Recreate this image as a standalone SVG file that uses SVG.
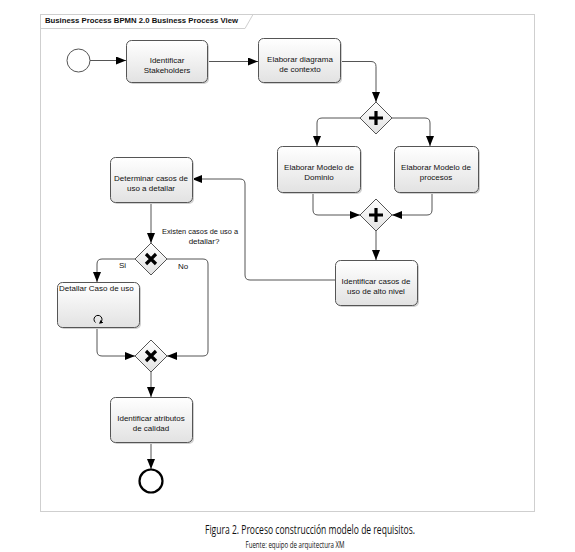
<svg xmlns="http://www.w3.org/2000/svg" width="575" height="552" viewBox="0 0 575 552">
<defs>
<linearGradient id="g" x1="0" y1="0" x2="0" y2="1">
<stop offset="0" stop-color="#ffffff"/>
<stop offset="1" stop-color="#e2e2e2"/>
</linearGradient>
<marker id="ah" markerUnits="userSpaceOnUse" markerWidth="11" markerHeight="9" refX="10" refY="4" orient="auto">
<path d="M0,0 L10,4 L0,8 z" fill="#000"/>
</marker>
<marker id="sh" markerUnits="userSpaceOnUse" markerWidth="5" markerHeight="5" refX="2" refY="2" orient="auto">
<path d="M0,0 L4,2 L0,4 z" fill="#000"/>
</marker>
</defs>
<style>
.frame{fill:#fff;stroke:#cfcfcf;stroke-width:1}
.task{fill:url(#g);stroke:#555;stroke-width:1}
.shadow{fill:#d0d0d0}
.gw{fill:url(#g);stroke:#555;stroke-width:1}
.mk{stroke:#000;stroke-width:3.2;fill:none}
.t{font-family:"Liberation Sans",Arial,sans-serif;font-size:8px;fill:#111}
.c{text-anchor:middle}
.conn path{fill:none;stroke:#555;stroke-width:1;marker-end:url(#ah)}
</style>
<rect width="575" height="552" fill="#fff"/>
<g id="frame">
<rect class="frame" x="40.5" y="14.5" width="494" height="497"/>
<path d="M40.5,28.5 H245 L253,14.5" fill="none" stroke="#cfcfcf"/>
<text class="t" x="45" y="23" font-weight="bold" textLength="193" lengthAdjust="spacingAndGlyphs">Business Process BPMN 2.0 Business Process View</text>
</g>
<g class="conn" id="connectors">
<path d="M90,60.5 H126"/>
<path d="M207,61.5 H258"/>
<path d="M341,61.5 H371 Q376,61.5 376,66.5 V102"/>
<path d="M360,118 H322 Q317,118 317,123 V146"/>
<path d="M392,118 H425 Q430,118 430,123 V146"/>
<path d="M313,192 V210 Q313,215 318,215 H360"/>
<path d="M432,192 V210 Q432,215 427,215 H392"/>
<path d="M376,231 V260"/>
<path d="M335,280 H250 Q245,280 245,275 V184 Q245,179 240,179 H192"/>
<path d="M151,202 V243"/>
<path d="M135,259 H102 Q97,259 97,264 V282"/>
<path d="M167,259 H203 Q208,259 208,264 V351 Q208,356 203,356 H167"/>
<path d="M97,327 V351 Q97,356 102,356 H135"/>
<path d="M151,372 V397"/>
<path d="M151,442 V469"/>
</g>
<g id="start">
<circle cx="78.5" cy="60.5" r="11.5" fill="#fff" stroke="#555" stroke-width="1"/>
</g>
<g id="t1">
<rect class="shadow" x="128" y="42" width="81" height="42" rx="5"/>
<rect class="task" x="126.5" y="40.5" width="81" height="42" rx="5"/>
<text class="t c" x="167" y="63">Identificar</text>
<text class="t c" x="167" y="73">Stakeholders</text>
</g>
<g id="t2">
<rect class="shadow" x="260" y="40" width="82" height="44" rx="5"/>
<rect class="task" x="258.5" y="38.5" width="82" height="44" rx="5"/>
<text class="t c" x="300" y="62">Elaborar diagrama</text>
<text class="t c" x="300" y="72">de contexto</text>
</g>
<g id="gw1">
<path class="gw" d="M376,102 L392,118 L376,134 L360,118 z"/>
<path class="mk" d="M376,111 V125 M369,118 H383"/>
</g>
<g id="t3">
<rect class="shadow" x="279" y="148" width="83" height="46" rx="5"/>
<rect class="task" x="277.5" y="146.5" width="83" height="46" rx="5"/>
<text class="t c" x="319" y="170">Elaborar Modelo de</text>
<text class="t c" x="319" y="180">Dominio</text>
</g>
<g id="t4">
<rect class="shadow" x="396" y="148" width="84" height="46" rx="5"/>
<rect class="task" x="394.5" y="146.5" width="84" height="46" rx="5"/>
<text class="t c" x="436" y="170">Elaborar Modelo de</text>
<text class="t c" x="436" y="180">procesos</text>
</g>
<g id="gw2">
<path class="gw" d="M376,199 L392,215 L376,231 L360,215 z"/>
<path class="mk" d="M376,208 V222 M369,215 H383"/>
</g>
<g id="t5">
<rect class="shadow" x="337" y="262" width="82" height="45" rx="5"/>
<rect class="task" x="335.5" y="260.5" width="82" height="45" rx="5"/>
<text class="t c" x="376" y="284">Identificar casos de</text>
<text class="t c" x="376" y="294">uso de alto nivel</text>
</g>
<g id="t6">
<rect class="shadow" x="112" y="159" width="82" height="45" rx="5"/>
<rect class="task" x="110.5" y="157.5" width="82" height="45" rx="5"/>
<text class="t c" x="151" y="181">Determinar casos de</text>
<text class="t c" x="151" y="191">uso a detallar</text>
</g>
<g id="gw3">
<path class="gw" d="M151,243 L167,259 L151,275 L135,259 z"/>
<path class="mk" d="M146,254 L156,264 M156,254 L146,264"/>
<text class="t" x="162" y="234" textLength="76" lengthAdjust="spacingAndGlyphs">Existen casos de uso a</text>
<text class="t c" x="204" y="244">detallar?</text>
<text class="t" x="119" y="268">Si</text>
<text class="t" x="178" y="269">No</text>
</g>
<g id="t7">
<rect class="shadow" x="59" y="284" width="82" height="45" rx="5"/>
<rect class="task" x="57.5" y="282.5" width="82" height="45" rx="5"/>
<text class="t" x="59" y="291">Detallar Caso de uso</text>
<path d="M95.5,322.5 A4,4 0 1 1 100.5,322.5" fill="none" stroke="#000" stroke-width="1" marker-end="url(#sh)"/>
</g>
<g id="gw4">
<path class="gw" d="M151,340 L167,356 L151,372 L135,356 z"/>
<path class="mk" d="M146,351 L156,361 M156,351 L146,361"/>
</g>
<g id="t8">
<rect class="shadow" x="112" y="399" width="82" height="45" rx="5"/>
<rect class="task" x="110.5" y="397.5" width="82" height="45" rx="5"/>
<text class="t c" x="151" y="421">Identificar atributos</text>
<text class="t c" x="151" y="431">de calidad</text>
</g>
<g id="end">
<circle cx="151" cy="481" r="11.5" fill="#fff" stroke="#000" stroke-width="2.2"/>
</g>
<g id="caption">
<text x="310" y="534" text-anchor="middle" font-family="'Open Sans','Noto Sans',sans-serif" font-size="13" fill="#111" textLength="210" lengthAdjust="spacingAndGlyphs">Figura 2. Proceso construcción modelo de requisitos.</text>
<text x="295" y="548" text-anchor="middle" font-family="'Open Sans','Noto Sans',sans-serif" font-size="8.5" fill="#111" textLength="99" lengthAdjust="spacingAndGlyphs">Fuente: equipo de arquitectura XM</text>
</g>
</svg>
